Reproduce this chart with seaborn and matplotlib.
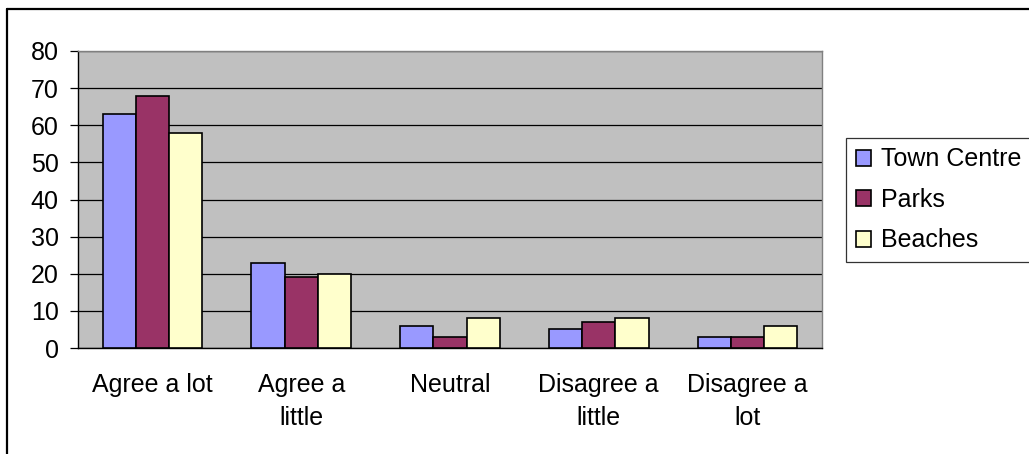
import matplotlib
matplotlib.use("Agg")
import matplotlib.pyplot as plt
import seaborn as sns
import pandas as pd
import numpy as np
from matplotlib.lines import Line2D

categories = ["Agree a lot", "Agree a\nlittle", "Neutral", "Disagree a\nlittle", "Disagree a\nlot"]
series_names = ["Town Centre", "Parks", "Beaches"]
town_centre = [63, 23, 6, 5, 3]
parks = [68, 19, 3, 7, 3]
beaches = [58, 20, 8, 8, 6]
colors = ["#9999FF", "#993366", "#FFFFCC"]
y_ticks = [0, 10, 20, 30, 40, 50, 60, 70, 80]

df = pd.DataFrame({
    "category": categories * 3,
    "series": [series_names[0]] * 5 + [series_names[1]] * 5 + [series_names[2]] * 5,
    "value": town_centre + parks + beaches,
})

sns.set_theme(style="white")
plt.rcParams['font.family'] = ['Liberation Sans', 'DejaVu Sans']
plt.rcParams['text.color'] = 'black'
plt.rcParams['xtick.color'] = 'black'
plt.rcParams['ytick.color'] = 'black'
plt.rcParams['xtick.labelcolor'] = 'black'
plt.rcParams['ytick.labelcolor'] = 'black'
FS = 18

fig = plt.figure(figsize=(10.29, 4.54), dpi=100)
ax = fig.add_axes([78/1029, 1 - 348/454, (822 - 78)/1029, (348 - 51)/454])
ax.set_facecolor("#C0C0C0")

sns.barplot(data=df, x="category", y="value", hue="series", palette=colors,
            width=0.67, gap=0, edgecolor="black", linewidth=1.2, ax=ax,
            legend=True, saturation=1, zorder=3)

ax.set_ylim(0, 80)
ax.set_xlim(-0.5, 4.5)
ax.set_yticks(y_ticks)
ax.set_yticklabels([str(v) for v in y_ticks], fontsize=FS, color="black")
ax.yaxis.grid(True, color="black", linewidth=0.9, zorder=0)
ax.set_axisbelow(True)
ax.set_xlabel("")
ax.set_ylabel("")

ax.set_xticks(range(len(categories)))
ax.set_xticklabels(categories, fontsize=FS, linespacing=1.45, color="black")
ax.tick_params(axis="x", which="major", length=0, pad=18)
ax.set_xticks(np.arange(-0.5, 5.0, 1.0), minor=True)
ax.tick_params(axis="x", which="minor", length=6, width=0.9, color="black", direction="out")
ax.tick_params(axis="y", length=6, width=0.9, color="black", direction="out", pad=8, left=True)

for side in ["left", "bottom"]:
    ax.spines[side].set_color("black")
    ax.spines[side].set_linewidth(1.0)
for side in ["top", "right"]:
    ax.spines[side].set_color("#808080")
    ax.spines[side].set_linewidth(1.0)

handles, labels = ax.get_legend_handles_labels()
ax.get_legend().remove()
leg = fig.legend(handles, labels, loc="upper left",
                 bbox_to_anchor=(846/1029, 1 - 138/454),
                 fontsize=FS, frameon=True, fancybox=False, edgecolor="black",
                 handlelength=0.62, handleheight=0.62, handletextpad=0.4,
                 labelspacing=0.66, borderpad=0.38, borderaxespad=0)
leg.get_frame().set_linewidth(0.9)
for t in leg.get_texts():
    t.set_color("black")

# chart border (only top and left edges visible in the reference)
fig.add_artist(Line2D([7/1029, 1], [1 - 9/454, 1 - 9/454], transform=fig.transFigure,
                      color="black", linewidth=1.6))
fig.add_artist(Line2D([7/1029, 7/1029], [0, 1 - 9/454], transform=fig.transFigure,
                      color="black", linewidth=1.6))

fig.savefig("out.png", dpi=100, facecolor="white")
